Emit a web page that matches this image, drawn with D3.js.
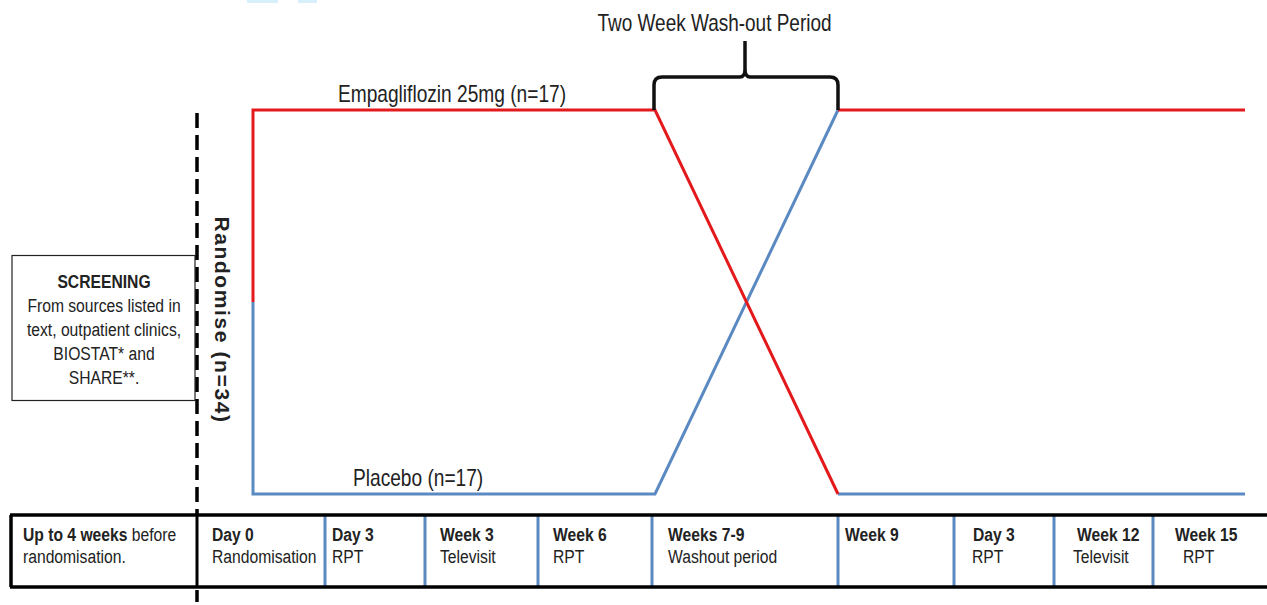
<!DOCTYPE html>
<html>
<head>
<meta charset="utf-8">
<script src="https://cdn.jsdelivr.net/npm/d3@7.9.0/dist/d3.min.js"></script>
<style>
  html, body { margin: 0; padding: 0; background: #fff; }
  svg { display: block; }
  text { font-family: "Liberation Sans", Arial, sans-serif; fill: #222; }
</style>
</head>
<body>
<svg id="chart" width="1267" height="605"></svg>
<script>
// --- data ---
// timeline cells: boundary positions (px along the study line), bold label, plain label
const cellEdges = [10, 197, 325, 425, 538, 652, 838, 954, 1054, 1153, 1267];
const cellTitles = ['Up to 4 weeks', 'Day 0', 'Day 3', 'Week 3', 'Week 6', 'Weeks 7-9', 'Week 9', 'Day 3', 'Week 12', 'Week 15'];
const cellSubs = ['randomisation.', 'Randomisation', 'RPT', 'Televisit', 'RPT', 'Washout period', '', 'RPT', 'Televisit', 'RPT'];
const titleX = [23, 212, 332, 440, 553, 668, 845, 973, 1077, 1175];
const subX = [23, 212, 332, 440, 553, 668, 845, 972, 1073, 1183];

// arms: stage points (x position in study px, level)
const armLevels = ['top', 'mid', 'bottom'];
const redArm = [[253, 'mid'], [253, 'top'], [655, 'top'], [838, 'bottom']];
const redArm2 = [[838, 'top'], [1245, 'top']];
const blueArm = [[253, 'mid'], [253, 'bottom'], [655, 'bottom'], [838, 'top']];
const blueArm2 = [[838, 'bottom'], [1245, 'bottom']];

const screeningLines = ['SCREENING', 'From sources listed in', 'text, outpatient clinics,', 'BIOSTAT* and', 'SHARE**.'];

const svg = d3.select('#chart');
const x = d3.scaleLinear().domain([0, 1267]).range([0, 1267]);
const y = d3.scalePoint().domain(armLevels).range([110, 494]);

const red = '#e3191c';
const blue = '#5b89c2';
const narrow = 0.825;

// narrow-font text helper (Arial Narrow look)
function ntext(g, px, py, size, str, opts = {}) {
  const t = g.append('text')
    .attr('transform', `translate(${px},${py}) scale(${narrow},1)`)
    .attr('font-size', size)
    .attr('text-anchor', opts.anchor || 'start')
    .attr('font-weight', opts.bold ? 'bold' : 'normal');
  if (str !== null) t.text(str);
  return t;
}

// faint artifacts at the top
svg.append('rect').attr('x', 247).attr('y', 0).attr('width', 31).attr('height', 3).attr('fill', '#d8f0fb');
svg.append('rect').attr('x', 298).attr('y', 0).attr('width', 19).attr('height', 3).attr('fill', '#d8f0fb');

// --- timeline band ---
const band = svg.append('g');
const bandTop = 515, bandBottom = 587;

band.selectAll('line.div')
  .data(cellEdges.slice(2, -1))
  .join('line')
  .attr('x1', d => x(d)).attr('x2', d => x(d))
  .attr('y1', bandTop).attr('y2', bandBottom)
  .attr('stroke', blue).attr('stroke-width', 3);

band.append('line').attr('x1', x(10)).attr('x2', x(1267)).attr('y1', bandTop).attr('y2', bandTop)
  .attr('stroke', '#000').attr('stroke-width', 3.5);
band.append('line').attr('x1', x(10)).attr('x2', x(1267)).attr('y1', bandBottom).attr('y2', bandBottom)
  .attr('stroke', '#000').attr('stroke-width', 3.5);
band.append('line').attr('x1', x(11)).attr('x2', x(11)).attr('y1', bandTop).attr('y2', bandBottom)
  .attr('stroke', '#000').attr('stroke-width', 3.5);

cellTitles.forEach((t, i) => {
  const tx = ntext(band, titleX[i], 541, 19, null);
  tx.append('tspan').attr('font-weight', 'bold').text(t);
  if (i === 0) tx.append('tspan').text(' before');
  ntext(band, subX[i], 563, 19, cellSubs[i]);
});

// --- screening box ---
svg.append('rect').attr('x', 12).attr('y', 255.5).attr('width', 183).attr('height', 145)
  .attr('fill', '#fff').attr('stroke', '#222').attr('stroke-width', 1.2);
screeningLines.forEach((l, i) => {
  ntext(svg, 104, 288 + i * 24, 19, l, { anchor: 'middle', bold: i === 0 });
});

// --- dashed randomisation line ---
svg.append('line').attr('x1', 197).attr('x2', 197).attr('y1', 113).attr('y2', 515)
  .attr('stroke', '#000').attr('stroke-width', 3.5).attr('stroke-dasharray', '15,7');
svg.append('line').attr('x1', 197).attr('x2', 197).attr('y1', 515).attr('y2', 587)
  .attr('stroke', '#000').attr('stroke-width', 3);
svg.append('line').attr('x1', 197).attr('x2', 197).attr('y1', 590).attr('y2', 605)
  .attr('stroke', '#000').attr('stroke-width', 3.5).attr('stroke-dasharray', '12,7');

svg.append('text')
  .attr('transform', 'translate(215,320) rotate(90)')
  .attr('text-anchor', 'middle')
  .attr('font-weight', 'bold')
  .attr('font-size', 21)
  .attr('letter-spacing', 1.6)
  .text('Randomise (n=34)');

// --- arms ---
const line = d3.line().x(d => x(d[0])).y(d => y(d[1]));
[[blueArm, blue], [blueArm2, blue], [redArm, red], [redArm2, red]].forEach(([pts, c]) => {
  svg.append('path').attr('d', line(pts)).attr('fill', 'none')
    .attr('stroke', c).attr('stroke-width', 3).attr('stroke-linejoin', 'miter');
});

ntext(svg, 338, 102, 23.2, 'Empagliflozin 25mg (n=17)');
ntext(svg, 353, 486, 23.2, 'Placebo (n=17)');

// --- brace ---
const bx0 = 654, bx1 = 838, bm = 745, byTop = 77, byEnd = 110, r = 8;
const brace = d3.path();
brace.moveTo(bx0, byEnd);
brace.lineTo(bx0, byTop + r);
brace.quadraticCurveTo(bx0, byTop, bx0 + r, byTop);
brace.lineTo(bm - 5, byTop);
brace.quadraticCurveTo(bm, byTop, bm, byTop - 8);
brace.lineTo(bm, 41);
brace.moveTo(bm, byTop - 8);
brace.quadraticCurveTo(bm, byTop, bm + 5, byTop);
brace.lineTo(bx1 - r, byTop);
brace.quadraticCurveTo(bx1, byTop, bx1, byTop + r);
brace.lineTo(bx1, byEnd);
svg.append('path').attr('d', brace.toString()).attr('fill', 'none')
  .attr('stroke', '#111').attr('stroke-width', 3.5);

ntext(svg, 714.5, 31, 23, 'Two Week Wash-out Period', { anchor: 'middle' });
</script>
</body>
</html>
